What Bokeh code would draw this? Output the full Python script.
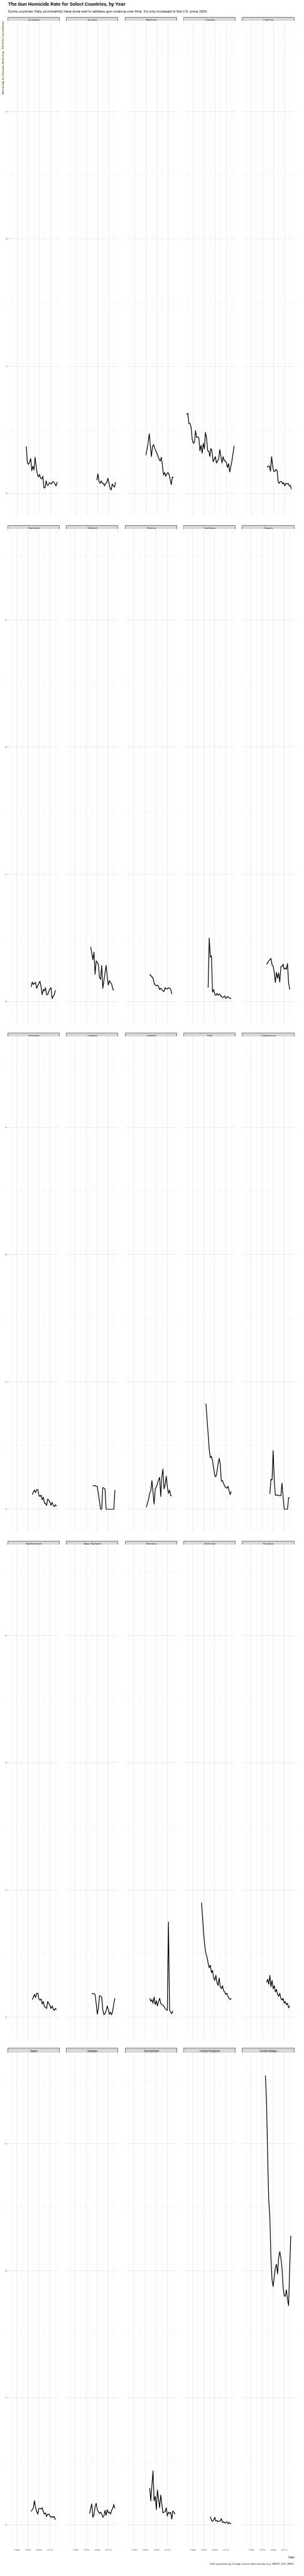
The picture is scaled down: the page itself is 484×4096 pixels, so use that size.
import math
from bokeh.plotting import figure
from bokeh.models import Range1d, FixedTicker, Grid, LinearAxis
from bokeh.layouts import column, row
from bokeh.embed import file_html
from bokeh.resources import INLINE
from bokeh.core.properties import value

# ---------------- texts ----------------
TITLE = "The Gun Homicide Rate for Select Countries, by Year"
SUBTITLE = ("Some countries (Italy, prominently) have done well to address gun violence "
            "over time. It's only increased in the U.S. since 2009.")
Y_TITLE = "Homicide by Firearm Rate (per 100,000 population)"
X_TITLE = "Year"
CAPTION = "Data: gunpolicy.org, through various other sources (e.g. UNODC, CDC, WHO)."

COUNTRIES = ["Australia", "Austria", "Belgium", "Canada", "Czechia",
             "Denmark", "Finland", "France", "Germany", "Greece",
             "Hungary", "Iceland", "Ireland", "Italy", "Luxembourg",
             "Netherlands", "New Zealand", "Norway", "Portugal", "Slovakia",
             "Spain", "Sweden", "Switzerland", "United Kingdom", "United States"]

X_TICKS = [1980, 1990, 2000, 2010]
X_MINOR = [1975, 1985, 1995, 2005, 2015]
Y_TICKS = [0, 2, 4, 6]
Y_MINOR = [1, 3, 5, 7]

# ---------------- data (rate per 100,000) ----------------
AUSTRALIA_YEARS = list(range(1988, 2017))
AUSTRALIA = [0.74, 0.48, 0.46, 0.49, 0.55, 0.36, 0.43, 0.37, 0.57, 0.42, 0.31, 0.26, 0.30, 0.24,
             0.23, 0.27, 0.09, 0.09, 0.20, 0.13, 0.13, 0.17, 0.16, 0.15, 0.19, 0.18, 0.15, 0.12, 0.18]
AUSTRIA_YEARS = list(range(1999, 2017))
AUSTRIA = [0.21, 0.31, 0.19, 0.16, 0.20, 0.16, 0.16, 0.12, 0.16, 0.17, 0.24, 0.17, 0.085, 0.056,
           0.15, 0.12, 0.10, 0.18]
BELGIUM_YEARS = list(range(1990, 2016))
BELGIUM = [0.60, 0.70, 0.80, 0.94, 0.75, 0.58, 0.74, 0.77, 0.71, 0.67, 0.63, 0.58, 0.54, 0.51,
           0.57, 0.43, 0.29, 0.33, 0.27, 0.31, 0.33, 0.30, 0.22, 0.14, 0.26, 0.25]
CANADA_YEARS = list(range(1974, 2018))
CANADA = [1.24, 1.26, 1.10, 1.10, 1.04, 0.85, 0.79, 0.80, 0.99, 0.88, 0.89, 0.87, 0.67, 0.76,
          0.63, 0.79, 0.70, 0.96, 0.87, 0.67, 0.67, 0.58, 0.71, 0.66, 0.50, 0.54, 0.58, 0.48,
          0.51, 0.54, 0.69, 0.59, 0.48, 0.58, 0.52, 0.51, 0.48, 0.41, 0.47, 0.34, 0.42, 0.51,
          0.63, 0.75]
CZECHIA_YEARS = list(range(1994, 2017))
CZECHIA = [0.41, 0.43, 0.43, 0.35, 0.58, 0.43, 0.35, 0.35, 0.38, 0.36, 0.18, 0.16, 0.19, 0.19,
           0.15, 0.17, 0.12, 0.16, 0.15, 0.16, 0.12, 0.13, 0.07]
DENMARK_YEARS = list(range(1993, 2016))
DENMARK = [0.23, 0.31, 0.27, 0.29, 0.30, 0.21, 0.25, 0.29, 0.32, 0.23, 0.11, 0.19, 0.17, 0.22,
           0.11, 0.11, 0.16, 0.20, 0.22, 0.05, 0.085, 0.11, 0.18]
FINLAND_YEARS = list(range(1994, 2016))
FINLAND = [0.86, 0.76, 0.66, 0.78, 0.43, 0.64, 0.62, 0.58, 0.38, 0.35, 0.57, 0.21, 0.33, 0.45,
           0.57, 0.40, 0.26, 0.33, 0.30, 0.28, 0.20, 0.18]
FRANCE_YEARS = list(range(1994, 2015))
FRANCE = [0.43, 0.41, 0.39, 0.37, 0.29, 0.26, 0.25, 0.26, 0.24, 0.19, 0.21, 0.19, 0.17, 0.16,
          0.22, 0.20, 0.20, 0.22, 0.21, 0.20, 0.12]
GERMANY_YEARS = list(range(1994, 2016))
GERMANY = [0.22, 1.00, 0.70, 0.72, 0.15, 0.19, 0.12, 0.10, 0.13, 0.10, 0.12, 0.11, 0.08, 0.07,
           0.07, 0.09, 0.05, 0.07, 0.08, 0.06, 0.05, 0.06]
GREECE_YEARS = list(range(1994, 2016))
GREECE = [0.59, 0.61, 0.64, 0.66, 0.68, 0.58, 0.56, 0.46, 0.30, 0.46, 0.37, 0.45, 0.31, 0.55,
          0.55, 0.59, 0.51, 0.53, 0.51, 0.60, 0.30, 0.19]
HUNGARY_YEARS = list(range(1994, 2017))
HUNGARY = [0.23, 0.27, 0.30, 0.26, 0.31, 0.31, 0.22, 0.20, 0.22, 0.15, 0.19, 0.10, 0.09, 0.06,
           0.16, 0.14, 0.11, 0.06, 0.11, 0.06, 0.04, 0.07, 0.05]
ICELAND_YEARS = [1996, 1997, 1998, 1999, 2000, 2003, 2004, 2005, 2006, 2007, 2008, 2009, 2010,
                 2011, 2012, 2013, 2014, 2015, 2016]
ICELAND = [0.37, 0.37, 0.37, 0.36, 0.36, 0.0, 0.0, 0.34, 0.33, 0.32, 0.0, 0.0, 0.0,
           0.0, 0.0, 0.0, 0.0, 0.0, 0.30]
IRELAND_YEARS = list(range(1991, 2015))
IRELAND = [0.03, 0.10, 0.16, 0.25, 0.29, 0.45, 0.26, 0.08, 0.32, 0.35, 0.40, 0.46, 0.50, 0.20,
           0.51, 0.63, 0.32, 0.38, 0.52, 0.35, 0.25, 0.30, 0.21, 0.21]
ITALY_YEARS = list(range(1992, 2016))
ITALY = [1.66, 1.42, 1.18, 0.94, 0.81, 0.83, 0.76, 0.65, 0.53, 0.51, 0.59, 0.71, 0.80, 0.71,
         0.44, 0.45, 0.41, 0.36, 0.34, 0.33, 0.36, 0.29, 0.23, 0.28]
LUXEMBOURG_YEARS = list(range(1997, 2016))
LUXEMBOURG = [0.24, 0.47, 0.46, 0.92, 0.45, 0.22, 0.22, 0.22, 0.22, 0.21, 0.21, 0.41, 0.20,
              0.0, 0.0, 0.0, 0.0, 0.18, 0.18]
NETHERLANDS_YEARS = list(range(1994, 2017))
NETHERLANDS = [0.28, 0.32, 0.36, 0.31, 0.38, 0.38, 0.29, 0.27, 0.29, 0.21, 0.25, 0.17, 0.16,
               0.14, 0.25, 0.22, 0.19, 0.14, 0.18, 0.13, 0.11, 0.14, 0.12]
NEW_ZEALAND_YEARS = list(range(1995, 2017))
NEW_ZEALAND = [0.38, 0.37, 0.37, 0.36, 0.22, 0.05, 0.15, 0.34, 0.33, 0.32, 0.12, 0.04, 0.06,
               0.10, 0.18, 0.12, 0.05, 0.08, 0.04, 0.10, 0.22, 0.30]
NORWAY_YEARS = list(range(1994, 2016))
NORWAY = [0.30, 0.25, 0.28, 0.22, 0.32, 0.20, 0.26, 0.18, 0.25, 0.30, 0.22, 0.20, 0.19, 0.17,
          0.14, 0.12, 0.11, 1.50, 0.12, 0.08, 0.06, 0.10]
PORTUGAL_YEARS = list(range(1988, 2016))
PORTUGAL = [1.80, 1.55, 1.30, 1.12, 1.00, 0.95, 0.85, 0.78, 0.82, 0.70, 0.74, 0.62, 0.58, 0.66,
            0.55, 0.50, 0.62, 0.48, 0.45, 0.50, 0.42, 0.40, 0.36, 0.38, 0.33, 0.30, 0.28, 0.30]
SLOVAKIA_YEARS = list(range(1994, 2016))
SLOVAKIA = [0.55, 0.60, 0.52, 0.66, 0.48, 0.58, 0.45, 0.50, 0.40, 0.44, 0.36, 0.33, 0.38, 0.30,
            0.27, 0.30, 0.22, 0.25, 0.20, 0.22, 0.15, 0.18]
SPAIN_YEARS = list(range(1993, 2016))
SPAIN = [0.21, 0.24, 0.27, 0.38, 0.27, 0.21, 0.17, 0.26, 0.26, 0.25, 0.27, 0.21, 0.17, 0.19,
         0.13, 0.17, 0.17, 0.145, 0.12, 0.13, 0.12, 0.13, 0.08]
SWEDEN_YEARS = list(range(1993, 2017))
SWEDEN = [0.18, 0.26, 0.33, 0.12, 0.16, 0.29, 0.34, 0.24, 0.21, 0.18, 0.20, 0.17, 0.12, 0.14,
          0.23, 0.15, 0.24, 0.19, 0.20, 0.17, 0.23, 0.26, 0.32, 0.26]
SWITZERLAND_YEARS = list(range(1994, 2018))
SWITZERLAND = [0.58, 0.38, 0.62, 0.85, 0.38, 0.45, 0.24, 0.55, 0.41, 0.27, 0.47, 0.33, 0.19,
               0.20, 0.21, 0.27, 0.14, 0.20, 0.18, 0.20, 0.09, 0.22, 0.20, 0.17]
UK_YEARS = list(range(1996, 2016))
UK = [0.13, 0.073, 0.056, 0.076, 0.12, 0.06, 0.07, 0.05, 0.06, 0.06, 0.10, 0.04, 0.05, 0.03,
      0.04, 0.05, 0.016, 0.04, 0.02, 0.02]
US_YEARS = list(range(1993, 2017))
US = [7.07, 6.65, 5.80, 5.10, 4.85, 4.20, 3.85, 3.75, 3.90, 4.05, 4.10, 3.95, 4.20, 4.30,
      4.20, 4.05, 3.75, 3.60, 3.60, 3.70, 3.55, 3.45, 4.05, 4.55]

SERIES = {
    "Australia": (AUSTRALIA_YEARS, AUSTRALIA), "Austria": (AUSTRIA_YEARS, AUSTRIA),
    "Belgium": (BELGIUM_YEARS, BELGIUM), "Canada": (CANADA_YEARS, CANADA),
    "Czechia": (CZECHIA_YEARS, CZECHIA), "Denmark": (DENMARK_YEARS, DENMARK),
    "Finland": (FINLAND_YEARS, FINLAND), "France": (FRANCE_YEARS, FRANCE),
    "Germany": (GERMANY_YEARS, GERMANY), "Greece": (GREECE_YEARS, GREECE),
    "Hungary": (HUNGARY_YEARS, HUNGARY), "Iceland": (ICELAND_YEARS, ICELAND),
    "Ireland": (IRELAND_YEARS, IRELAND), "Italy": (ITALY_YEARS, ITALY),
    "Luxembourg": (LUXEMBOURG_YEARS, LUXEMBOURG), "Netherlands": (NETHERLANDS_YEARS, NETHERLANDS),
    "New Zealand": (NEW_ZEALAND_YEARS, NEW_ZEALAND), "Norway": (NORWAY_YEARS, NORWAY),
    "Portugal": (PORTUGAL_YEARS, PORTUGAL), "Slovakia": (SLOVAKIA_YEARS, SLOVAKIA),
    "Spain": (SPAIN_YEARS, SPAIN), "Sweden": (SWEDEN_YEARS, SWEDEN),
    "Switzerland": (SWITZERLAND_YEARS, SWITZERLAND), "United Kingdom": (UK_YEARS, UK),
    "United States": (US_YEARS, US),
}

# ---------------- scales (fixed facets, 5% expansion) ----------------
all_x = [x for ys, _ in SERIES.values() for x in ys]
all_y = [v for _, vs in SERIES.values() for v in vs]
xspan = max(all_x) - min(all_x)
yspan = max(all_y) - min(all_y)
X0, X1 = min(all_x) - 0.05 * xspan, max(all_x) + 0.05 * xspan
Y0, Y1 = min(all_y) - 0.05 * yspan, max(all_y) + 0.05 * yspan

# ---------------- layout geometry (reference px * 0.517) ----------------
S = 0.517
def L(v):
    return v * S - 8.0

FONT = value("Roboto")
FW = 83
FRAME_L = [round(L(38.3 + 180.7 * c)) for c in range(5)]
FIG_L = [0] + [FRAME_L[c - 1] + FW for c in range(1, 5)]
BORDER_L = [FRAME_L[c] - FIG_L[c] for c in range(5)]
BORDER_R = [0, 0, 0, 0, 3]
TOTAL_W = FRAME_L[4] + FW + BORDER_R[4]
ST = [round(L(62 + 1562 * r)) for r in range(5)]
PT = [round(L(80 + 1562 * r)) for r in range(5)]
PB = [round(L(1602 + 1562 * r)) for r in range(5)]
AX_H = 10
FOOT_H = 19
YT_W = 6

GRID_MAJOR = "#e7e7e7"
GRID_MINOR = "#f0f0f0"


def base_fig(fw, fh, bl, br, bt, bb, xr, yr, **kw):
    p = figure(frame_width=fw, frame_height=fh, x_range=xr, y_range=yr,
               x_axis_location=None, y_axis_location=None,
               toolbar_location=None, tools="", output_backend="svg",
               min_border_left=bl, min_border_right=br, min_border_top=bt, min_border_bottom=bb,
               border_fill_color="white", **kw)
    p.center = [m for m in p.center if not isinstance(m, Grid)]
    return p


def text_fig(w, h):
    return base_fig(w, h, 0, 0, 0, 0, Range1d(0, w), Range1d(0, h),
                    background_fill_color="white", outline_line_color=None)


# header
header = text_fig(TOTAL_W, ST[0])
header.text(x=[L(39.3)], y=[ST[0] - L(27.3)], text=[TITLE], text_font=FONT,
            text_font_style="bold", text_font_size="7.9px", text_color="#111111",
            text_align="left", text_baseline="alphabetic")
header.text(x=[L(39.3)], y=[ST[0] - L(49.3)], text=[SUBTITLE], text_font=FONT,
            text_font_size="5.7px", text_color="#222222",
            text_align="left", text_baseline="alphabetic")

layout_rows = [header]

for r in range(5):
    strips = []
    sh = PT[r] - ST[r]
    for c in range(5):
        name = COUNTRIES[r * 5 + c]
        s = base_fig(FW, sh, BORDER_L[c], BORDER_R[c], 0, 0, Range1d(0, 1), Range1d(0, 1),
                     background_fill_color="#d9d9d9", outline_line_color="#666666",
                     outline_line_width=0.8)
        s.text(x=[0.5], y=[0.5], text=[name], text_font=FONT, text_font_size="4.6px",
               text_color="#3a3a3a", text_align="center", text_baseline="middle")
        strips.append(s)
    layout_rows.append(row(strips))

    fh = PB[r] - PT[r]
    bb = (ST[r + 1] - PB[r]) if r < 4 else AX_H
    panels = []
    if r == 0:
        yt = text_fig(YT_W, fh + bb)
        yt.text(x=[4.0], y=[fh + bb - 0.4], text=[Y_TITLE], text_font=FONT,
                text_font_style="italic", text_font_size="5.3px", text_color="#222222",
                angle=math.pi / 2, text_align="right", text_baseline="alphabetic")
        panels.append(yt)
    for c in range(5):
        name = COUNTRIES[r * 5 + c]
        bl = BORDER_L[c] - (YT_W if (r == 0 and c == 0) else 0)
        p = base_fig(FW, fh, bl, BORDER_R[c], 0, bb, Range1d(X0, X1), Range1d(Y0, Y1),
                     background_fill_color="white", outline_line_color=None)
        p.add_layout(Grid(dimension=0, ticker=FixedTicker(ticks=X_TICKS, minor_ticks=X_MINOR),
                          grid_line_color=GRID_MAJOR, grid_line_width=0.8,
                          minor_grid_line_color=GRID_MINOR, minor_grid_line_width=0.5))
        p.add_layout(Grid(dimension=1, ticker=FixedTicker(ticks=Y_TICKS, minor_ticks=Y_MINOR),
                          grid_line_color=GRID_MAJOR, grid_line_width=0.8,
                          minor_grid_line_color=GRID_MINOR, minor_grid_line_width=0.5))
        if c == 0:
            ya = LinearAxis(ticker=FixedTicker(ticks=Y_TICKS))
            ya.axis_line_color = None
            ya.major_tick_out = 1
            ya.major_tick_in = 0
            ya.minor_tick_out = 0
            ya.minor_tick_in = 0
            ya.major_tick_line_color = "#555555"
            ya.major_tick_line_width = 0.6
            ya.major_label_standoff = 1
            ya.major_label_text_font = "Roboto"
            ya.major_label_text_font_size = "4.4px"
            ya.major_label_text_color = "#7a7a7a"
            p.add_layout(ya, "left")
        if r == 4:
            xa = LinearAxis(ticker=FixedTicker(ticks=X_TICKS))
            xa.axis_line_color = None
            xa.major_tick_out = 0
            xa.major_tick_in = 0
            xa.minor_tick_out = 0
            xa.minor_tick_in = 0
            xa.major_label_standoff = 2
            xa.major_label_text_font = "Roboto"
            xa.major_label_text_font_size = "4.4px"
            xa.major_label_text_color = "#7a7a7a"
            p.add_layout(xa, "below")
        xs, vs = SERIES[name]
        p.line(xs, vs, line_color="black", line_width=1.2, line_join="round")
        panels.append(p)
    layout_rows.append(row(panels))

footer = text_fig(TOTAL_W, FOOT_H)
footer.text(x=[L(921)], y=[FOOT_H - 5.5], text=[X_TITLE], text_font=FONT,
            text_font_style="italic", text_font_size="5.1px", text_color="#222222",
            text_align="right", text_baseline="middle")
footer.text(x=[L(921)], y=[FOOT_H - 15.8], text=[CAPTION], text_font=FONT,
            text_font_style="italic", text_font_size="4.1px", text_color="#222222",
            text_align="right", text_baseline="middle")
layout_rows.append(footer)

root = column(layout_rows)
open("out.html", "w").write(file_html(root, INLINE))
